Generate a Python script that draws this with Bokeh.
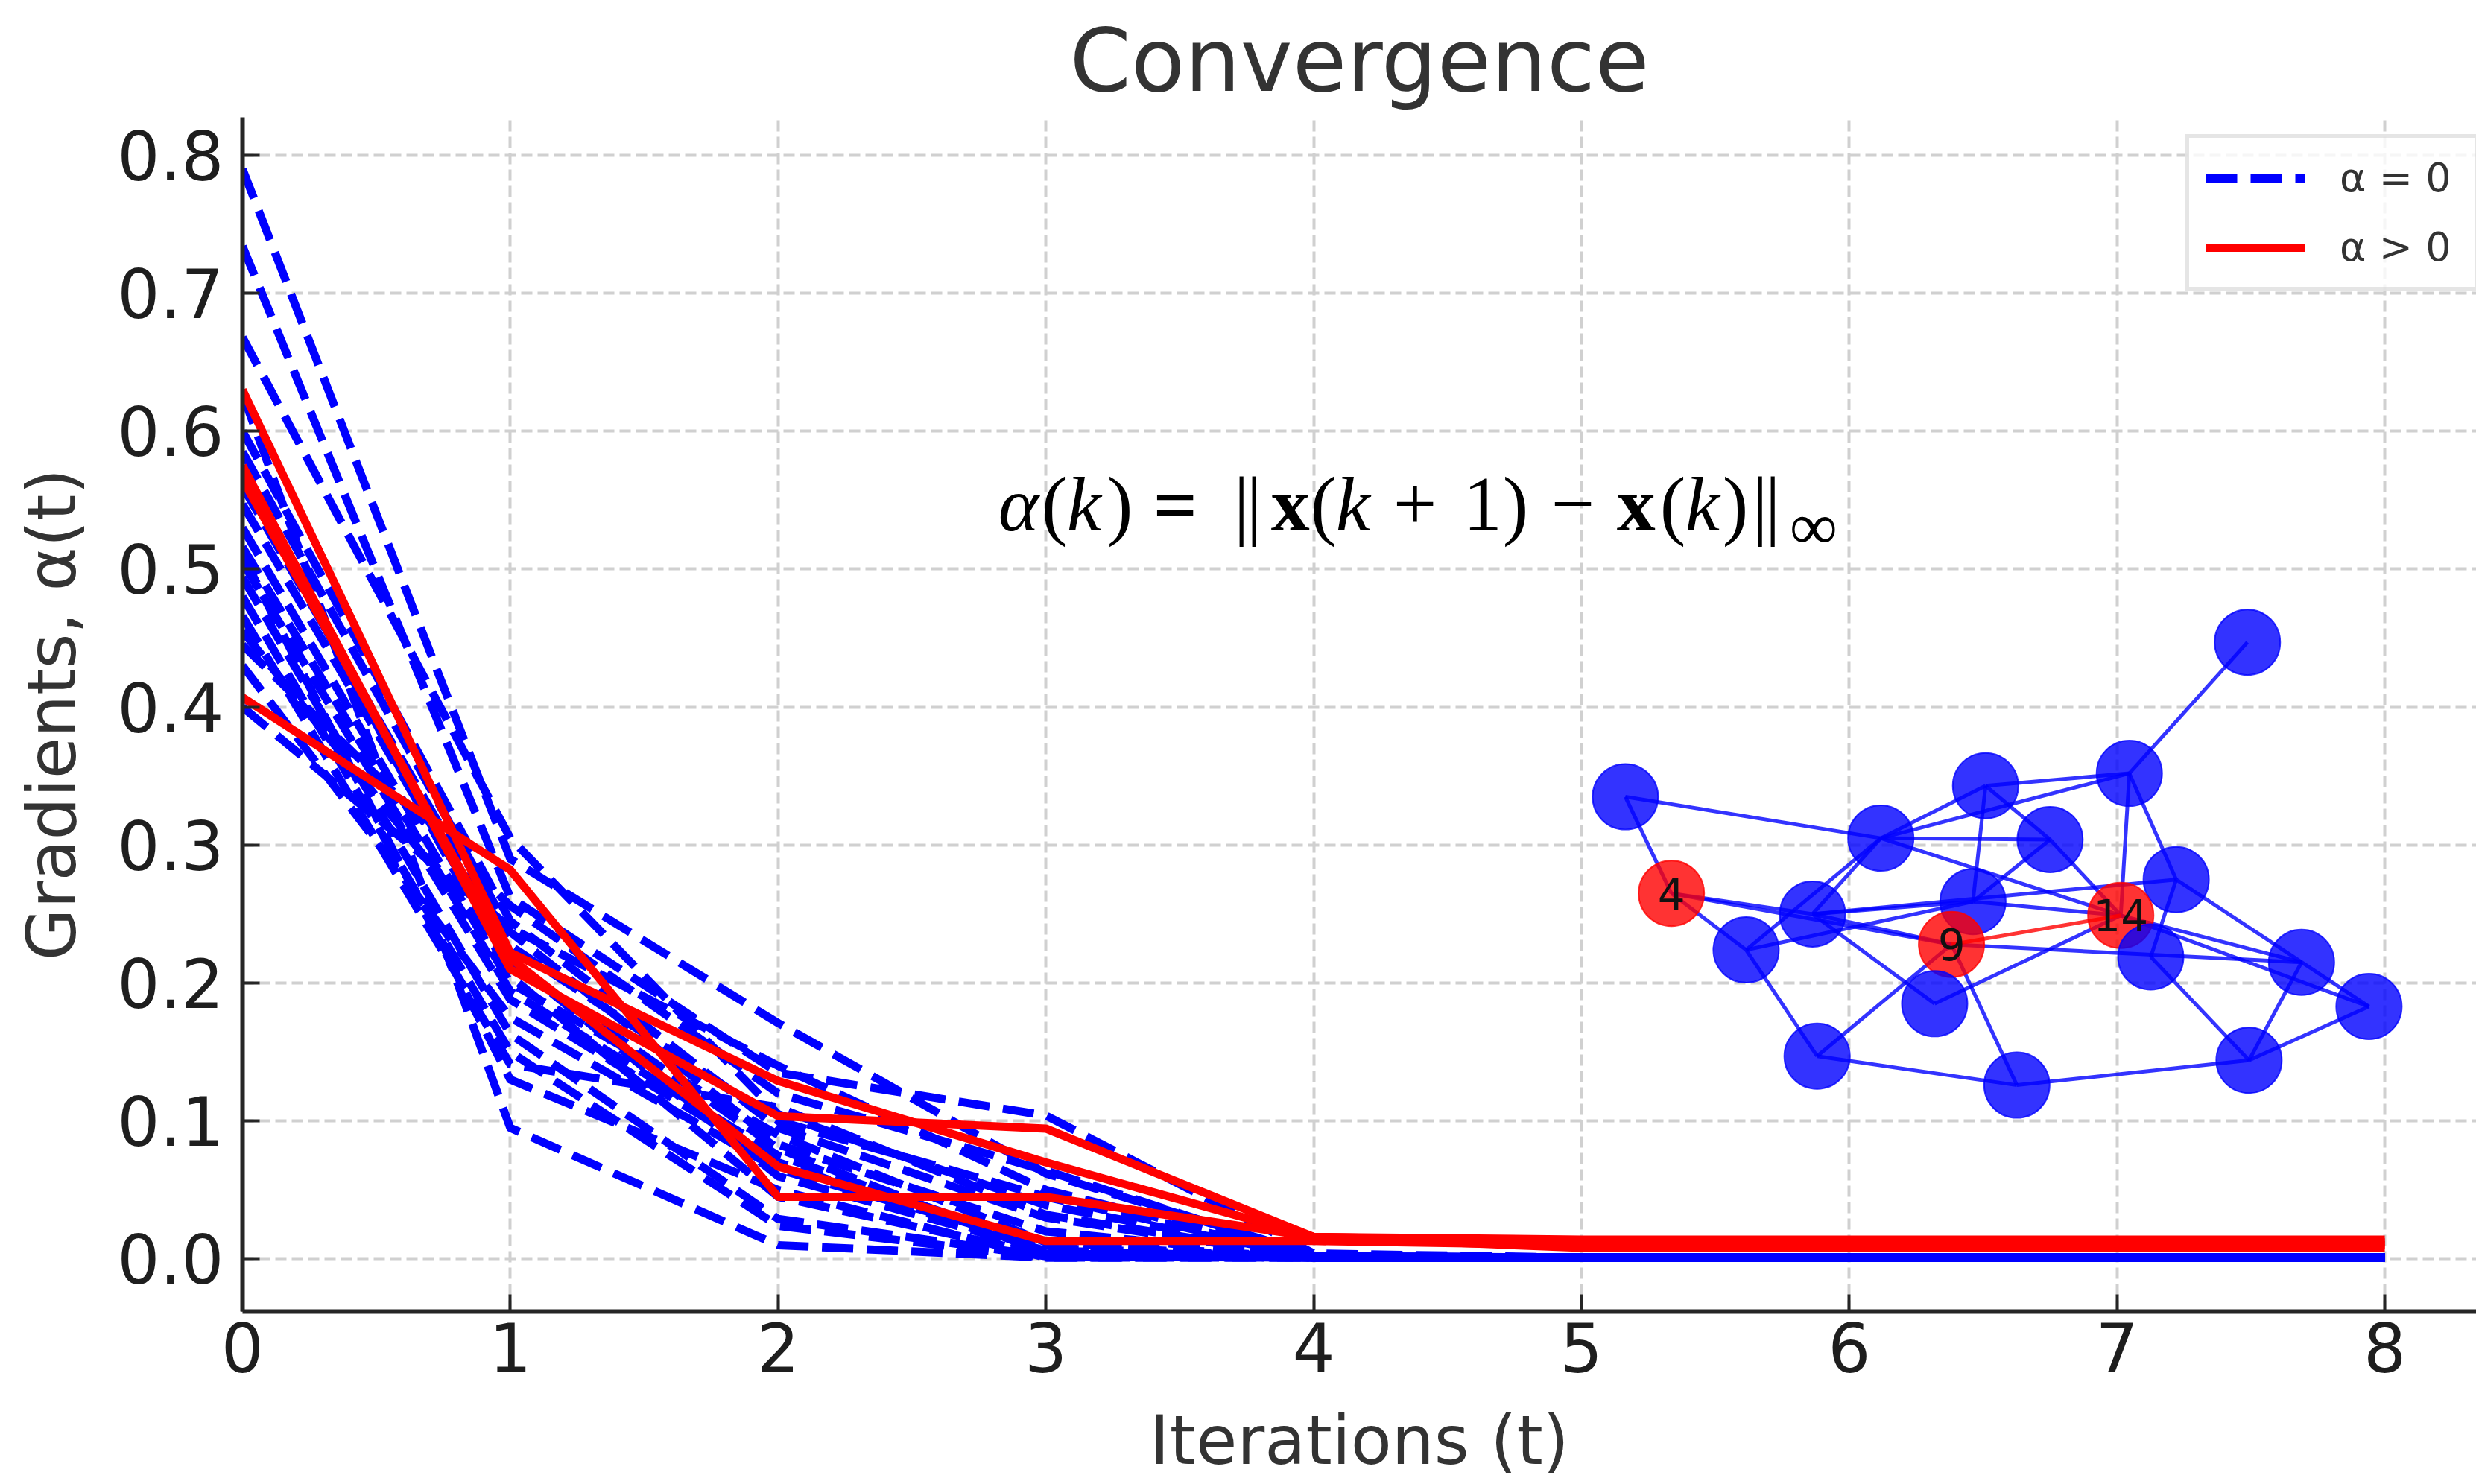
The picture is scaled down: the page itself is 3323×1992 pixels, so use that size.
from bokeh.plotting import figure
from bokeh.models import (Range1d, FixedTicker, NumeralTickFormatter, Legend,
                          LegendItem, Label, ColumnDataSource)
from bokeh.core.properties import value
from bokeh.embed import file_html
from bokeh.resources import INLINE

# ---------------- data ----------------
iterations = [0, 1, 2, 3, 4, 5, 6, 7, 8]
x_ticks = [0, 1, 2, 3, 4, 5, 6, 7, 8]
y_ticks = [0.0, 0.1, 0.2, 0.3, 0.4, 0.5, 0.6, 0.7, 0.8]

# alpha = 0 runs (blue dashed)
blue_runs = [
    [0.790, 0.290, 0.171, 0.062, 0.003, 0.001, 0.001, 0.001, 0.001],
    [0.734, 0.262, 0.135, 0.104, 0.004, 0.001, 0.001, 0.001, 0.001],
    [0.668, 0.305, 0.105, 0.039, 0.002, 0.001, 0.001, 0.001, 0.001],
    [0.627, 0.095, 0.010, 0.001, 0.001, 0.001, 0.001, 0.001, 0.001],
    [0.600, 0.245, 0.095, 0.030, 0.001, 0.001, 0.001, 0.001, 0.001],
    [0.585, 0.237, 0.083, 0.020, 0.001, 0.001, 0.001, 0.001, 0.001],
    [0.570, 0.205, 0.045, 0.003, 0.001, 0.001, 0.001, 0.001, 0.001],
    [0.560, 0.227, 0.100, 0.045, 0.002, 0.001, 0.001, 0.001, 0.001],
    [0.547, 0.217, 0.060, 0.006, 0.001, 0.001, 0.001, 0.001, 0.001],
    [0.530, 0.200, 0.090, 0.012, 0.001, 0.001, 0.001, 0.001, 0.001],
    [0.516, 0.194, 0.075, 0.008, 0.001, 0.001, 0.001, 0.001, 0.001],
    [0.510, 0.130, 0.050, 0.001, 0.001, 0.001, 0.001, 0.001, 0.001],
    [0.505, 0.188, 0.070, 0.004, 0.001, 0.001, 0.001, 0.001, 0.001],
    [0.494, 0.163, 0.029, 0.002, 0.001, 0.001, 0.001, 0.001, 0.001],
    [0.480, 0.150, 0.024, 0.001, 0.001, 0.001, 0.001, 0.001, 0.001],
    [0.466, 0.141, 0.110, 0.032, 0.001, 0.001, 0.001, 0.001, 0.001],
    [0.455, 0.215, 0.080, 0.004, 0.001, 0.001, 0.001, 0.001, 0.001],
    [0.445, 0.256, 0.120, 0.064, 0.002, 0.001, 0.001, 0.001, 0.001],
    [0.430, 0.175, 0.065, 0.010, 0.001, 0.001, 0.001, 0.001, 0.001],
    [0.400, 0.240, 0.140, 0.050, 0.002, 0.001, 0.001, 0.001, 0.001],
]

# alpha > 0 runs (red solid)
red_runs = [
    [0.630, 0.222, 0.129, 0.070, 0.016, 0.014, 0.014, 0.014, 0.014],
    [0.575, 0.210, 0.1035, 0.0945, 0.016, 0.012, 0.012, 0.012, 0.012],
    [0.565, 0.218, 0.067, 0.013, 0.013, 0.010, 0.010, 0.010, 0.010],
    [0.407, 0.282, 0.045, 0.045, 0.016, 0.008, 0.008, 0.008, 0.008],
]

# network inset (drawn in data coordinates of the plot)
node_x = [7.487, 5.164, 5.336, 6.118, 6.509, 7.046, 6.750, 7.221, 5.863, 6.462,
          7.014, 6.382, 5.615, 7.126, 7.689, 7.941, 6.319, 5.880, 7.493, 6.626]
node_y = [0.447, 0.335, 0.265, 0.305, 0.343, 0.352, 0.304, 0.275, 0.250, 0.259,
          0.249, 0.228, 0.224, 0.219, 0.215, 0.183, 0.185, 0.147, 0.144, 0.126]
node_label = ["", "", "4", "", "", "", "", "", "", "",
              "14", "9", "", "", "", "", "", "", "", ""]
red_nodes = [2, 10, 11]
edges = [(0, 5), (1, 3), (1, 2), (2, 8), (2, 11), (2, 12), (3, 4), (3, 6),
         (3, 8), (3, 12), (3, 5), (3, 10), (4, 5), (4, 6), (4, 9), (6, 10),
         (6, 9), (5, 10), (5, 7), (7, 8), (7, 13), (7, 15), (8, 9), (8, 11),
         (8, 16), (12, 9), (10, 14), (10, 15), (11, 14), (11, 17), (11, 19),
         (12, 17), (17, 19), (19, 18), (18, 15), (18, 14), (13, 18), (16, 10),
         (9, 10)]
red_edges = [(10, 11)]

legend_labels = ["α = 0", "α > 0"]

# formula annotation: (text, style, x offset px, y offset px, size)
formula_anchor = (2.822, 0.547)
formula_parts = [
    ("α", "italic", 0, 0, "104px"),
    ("(", "normal", 58, 0, "104px"),
    ("k", "italic", 92, 0, "104px"),
    (")", "normal", 146, 0, "104px"),
    ("=", "bold", 208, 0, "104px"),
    ("|", "normal", 316, 0, "104px"),
    ("|", "normal", 333, 0, "104px"),
    ("x", "bold", 366, 0, "104px"),
    ("(", "normal", 419, 0, "104px"),
    ("k", "italic", 453, 0, "104px"),
    ("+", "normal", 530, 0, "104px"),
    ("1", "normal", 624, 0, "104px"),
    (")", "normal", 677, 0, "104px"),
    ("−", "normal", 742, 0, "104px"),
    ("x", "bold", 830, 0, "104px"),
    ("(", "normal", 888, 0, "104px"),
    ("k", "italic", 922, 0, "104px"),
    (")", "normal", 972, 0, "104px"),
    ("|", "normal", 1012, 0, "104px"),
    ("|", "normal", 1029, 0, "104px"),
    ("∞", "normal", 1062, -30, "90px"),
]

# ---------------- figure ----------------
p = figure(width=3323, height=1992, output_backend="svg", toolbar_location=None,
           x_range=Range1d(0, 8.342), y_range=Range1d(-0.0381, 0.8275),
           min_border_left=325, min_border_right=0, min_border_top=157,
           min_border_bottom=232, title="Convergence")
p.outline_line_color = None
p.background_fill_color = "white"
p.border_fill_color = "white"

p.title.text_font = "DejaVu Sans"
p.title.text_font_size = "118px"
p.title.text_font_style = "normal"
p.title.text_color = "#333333"
p.title.align = "center"
p.title.standoff = 16

for ax in (p.xaxis[0], p.yaxis[0]):
    ax.axis_line_width = 6
    ax.axis_line_color = "#262626"
    ax.major_tick_in = 23
    ax.major_tick_out = 0
    ax.major_tick_line_width = 4
    ax.major_tick_line_color = "#262626"
    ax.minor_tick_line_color = None
    ax.major_label_text_font = "DejaVu Sans"
    ax.major_label_text_font_size = "90px"
    ax.major_label_text_color = "#1e1e1e"
    ax.axis_label_text_font = "DejaVu Sans"
    ax.axis_label_text_font_size = "90px"
    ax.axis_label_text_font_style = "normal"
    ax.axis_label_text_color = "#333333"

p.xaxis.ticker = FixedTicker(ticks=x_ticks)
p.yaxis.ticker = FixedTicker(ticks=y_ticks)
p.yaxis.formatter = NumeralTickFormatter(format="0.0")
p.xaxis.axis_label = "Iterations (t)"
p.yaxis.axis_label = "Gradients, α(t)"
p.xaxis.major_label_standoff = 14
p.yaxis.major_label_standoff = 25
p.xaxis.axis_label_standoff = 36
p.yaxis.axis_label_standoff = 32

for g in (p.xgrid[0], p.ygrid[0]):
    g.grid_line_color = "#d0d0d0"
    g.grid_line_width = 4
    g.grid_line_dash = "15 7"

# ---------------- runs ----------------
blue_renderers = []
for run in blue_runs:
    r = p.line(iterations, run, line_color="blue", line_width=11,
               line_dash="42 18", line_join="round")
    blue_renderers.append(r)

red_renderers = []
for run in red_runs:
    r = p.line(iterations, run, line_color="red", line_width=11,
               line_join="round")
    red_renderers.append(r)

# ---------------- network ----------------
ex = [[node_x[a], node_x[b]] for a, b in edges]
ey = [[node_y[a], node_y[b]] for a, b in edges]
p.multi_line(ex, ey, line_color="blue", line_alpha=0.8, line_width=5)
rex = [[node_x[a], node_x[b]] for a, b in red_edges]
rey = [[node_y[a], node_y[b]] for a, b in red_edges]
p.multi_line(rex, rey, line_color="red", line_alpha=0.8, line_width=5)

node_colors = ["red" if i in red_nodes else "blue" for i in range(len(node_x))]
nsrc = ColumnDataSource(dict(x=node_x, y=node_y, c=node_colors, t=node_label))
p.scatter("x", "y", source=nsrc, size=88, fill_color="c", fill_alpha=0.8,
          line_color="c", line_alpha=0.8, line_width=2)
p.text("x", "y", text="t", source=nsrc, text_font=value("DejaVu Sans"),
       text_font_size="58px", text_align="center", text_baseline="middle",
       text_color="#111111")

# ---------------- formula ----------------
for txt, style, dx, dy, size in formula_parts:
    p.add_layout(Label(x=formula_anchor[0], y=formula_anchor[1], x_offset=dx,
                       y_offset=dy, text=txt, text_font="Liberation Serif",
                       text_font_style=style, text_font_size=size,
                       text_color="black", text_align="left",
                       text_baseline="alphabetic"))

# ---------------- legend ----------------
legend = Legend(items=[LegendItem(label=legend_labels[0], renderers=[blue_renderers[0]]),
                       LegendItem(label=legend_labels[1], renderers=[red_renderers[0]])],
                location=(2608, 1370))
legend.glyph_width = 133
legend.glyph_height = 60
legend.label_height = 60
legend.label_width = 160
legend.label_text_font = "DejaVu Sans"
legend.label_text_font_size = "54px"
legend.label_text_color = "#333333"
legend.label_standoff = 47
legend.spacing = 30
legend.padding = 22
legend.margin = 0
legend.border_line_color = "#cccccc"
legend.border_line_width = 5
legend.background_fill_color = "white"
legend.background_fill_alpha = 0.8
p.add_layout(legend)

open("out.html", "w").write(file_html(p, INLINE))
